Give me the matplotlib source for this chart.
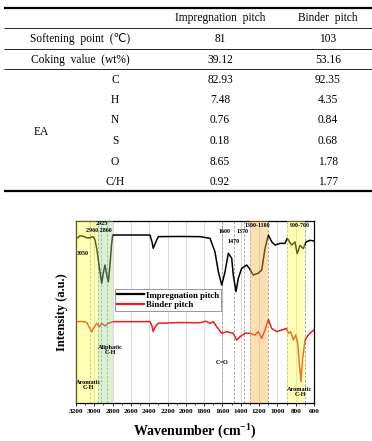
import numpy as np
import matplotlib
matplotlib.use("Agg")
import matplotlib.pyplot as plt
from matplotlib.ticker import MultipleLocator

plt.rcParams['font.family'] = ['Liberation Serif', 'DejaVu Sans']
plt.rcParams['mathtext.fontset'] = 'custom'
plt.rcParams['mathtext.rm'] = 'Liberation Serif'
plt.rcParams['mathtext.bf'] = 'Liberation Serif:bold'

# ---- table data ----
col_headers = ["Impregnation  pitch", "Binder  pitch"]
param_rows = ["Softening  point  (\u2103)", "Coking  value  (wt%)"]
ea_group = "EA"
ea_elements = ["C", "H", "N", "S", "O", "C/H"]
impregnation_vals = ["81", "39.12", "82.93", "7.48", "0.76", "0.18", "8.65", "0.92"]
binder_vals = ["103", "53.16", "92.35", "4.35", "0.84", "0.68", "1.78", "1.77"]

# ---- FT-IR spectra ----
wn_imp = [3192, 3156, 3113, 3080, 3047, 3011, 2992, 2971, 2949, 2919, 2900, 2883,
          2864, 2847, 2829, 2812, 2799, 2755, 2392, 2370, 2356, 2337, 2301, 2064,
          1845, 1736, 1682, 1645, 1608, 1572, 1536, 1499, 1482, 1452, 1427, 1390,
          1361, 1335, 1307, 1263, 1209, 1171, 1135, 1099, 1062, 1026, 971, 917,
          892, 844, 808, 783, 753, 717, 687, 644, 600]
int_imp = [90.5, 91.9, 91.5, 90.7, 90.8, 91.4, 89.6, 84.1, 75.8, 65.8, 72.0, 75.8,
           70.3, 66.6, 75.8, 86.8, 92.3, 92.3, 92.3, 88.5, 85.0, 87.4, 91.4, 91.5,
           91.4, 90.5, 83.1, 72.1, 64.8, 72.1, 82.3, 79.5, 70.3, 61.2, 68.5, 74.0,
           74.9, 75.8, 74.0, 70.3, 71.3, 73.1, 85.0, 92.3, 88.6, 86.8, 87.7, 87.7,
           90.5, 86.8, 88.5, 82.0, 86.6, 84.8, 88.5, 89.4, 89.0]

wn_bin = [3192, 3134, 3083, 3058, 3028, 3011, 2974, 2945, 2919, 2883, 2847, 2793,
          2392, 2370, 2356, 2337, 2301, 2064, 1845, 1780, 1736, 1700, 1663, 1608,
          1554, 1482, 1445, 1408, 1354, 1299, 1245, 1209, 1171, 1135, 1099, 1062,
          1008, 953, 898, 881, 855, 826, 800, 778, 759, 742, 726, 698, 662, 624, 600]
int_bin = [44.7, 44.8, 44.3, 41.8, 39.0, 41.0, 43.8, 41.9, 43.8, 42.3, 43.8, 44.7,
           44.7, 42.3, 39.2, 41.8, 43.8, 44.2, 44.1, 44.9, 43.8, 44.6, 41.9, 38.3,
           39.2, 38.3, 34.6, 36.4, 38.3, 38.3, 37.4, 39.2, 35.5, 40.1, 45.9, 41.0,
           39.2, 40.1, 41.0, 38.3, 39.2, 34.6, 37.4, 32.8, 20.9, 11.7, 23.6, 34.6,
           37.4, 39.2, 40.1]

bands = [(3200, 2960, '#ffff40', 0.38), (2960, 2800, '#a8dc98', 0.42),
         (1300, 1100, '#f8b448', 0.42), (900, 700, '#ffff40', 0.38)]
dashed_wn = [3050, 2960, 2925, 2860, 1600, 1470, 1370]
peak_labels = [("3050", 3124, 82.4), ("2925", 2919, 98.5), ("2960 2860", 2950, 95.0),
               ("1600", 1578, 94.0), ("1470", 1474, 89.0), ("1370", 1379, 94.0),
               ("1300-1100", 1219, 97.6), ("900-700", 753, 97.3)]
group_labels = [("C=O", 1608, 22.1), ("Aliphatic\nC-H", 2829, 29.1),
                ("Aromatic\nC-H", 3066, 9.9), ("Aromatic\nC-H", 753, 6.3)]

W, H = 372, 441
fig = plt.figure(figsize=(W / 100, H / 100), dpi=100)

# ---- table drawn in pixel coordinates ----
tab = fig.add_axes([0, 0, 1, 1])
tab.set_xlim(0, W)
tab.set_ylim(H, 0)
tab.axis('off')
x0, x1 = 4, 372
for y, lw in [(7.5, 1.6), (27.5, 0.6), (48.5, 0.6), (69, 0.6), (191, 1.6)]:
    tab.plot([x0, x1], [y, y], color='black', lw=lw, solid_capstyle='butt')
fs = 8.3
cx_imp, cx_bin = 220, 328
tab.text(cx_imp, 18.3, col_headers[0], ha='center', va='center', fontsize=fs)
tab.text(cx_bin, 18.3, col_headers[1], ha='center', va='center', fontsize=fs)
row_y = [39, 60, 80, 100, 120, 140.7, 161.7, 181.7]
for i, name in enumerate(param_rows):
    tab.text(80, row_y[i], name, ha='center', va='center', fontsize=fs)
for i, el in enumerate(ea_elements):
    tab.text(115, row_y[i + 2], el, ha='center', va='center', fontsize=fs)
tab.text(41.7, 131.7, ea_group, ha='center', va='center', fontsize=fs)
for i in range(len(row_y)):
    tab.text(cx_imp, row_y[i], impregnation_vals[i], ha='center', va='center', fontsize=fs)
    tab.text(cx_bin, row_y[i], binder_vals[i], ha='center', va='center', fontsize=fs)

# ---- FT-IR plot ----
left, right, top, bottom = 76, 314, 221, 403
ax = fig.add_axes([left / W, (H - bottom) / H, (right - left) / W, (bottom - top) / H])
ax.set_xlim(3200, 600)
ax.set_ylim(0, 100)

for xv in range(3000, 600, -200):
    ax.axvline(xv, color='#d4d4d4', lw=0.6, zorder=0)
for xv in dashed_wn + [1300, 1100, 900, 700]:
    ax.axvline(xv, color='#9a9a9a', lw=0.6, ls=(0, (3, 2)), zorder=0.5)

ax.plot(wn_imp, int_imp, color='black', lw=1.1, label='Impregnation pitch', zorder=2)
ax.plot(wn_bin, int_bin, color='#e8201a', lw=1.1, label='Binder pitch', zorder=2)

for a, b, c, al in bands:
    ax.axvspan(b, a, color=c, alpha=al, lw=0, zorder=3)

for txt, x, y in peak_labels:
    ax.text(x, y, txt, ha='center', va='center', fontsize=4.3, fontweight='bold', zorder=4)
for txt, x, y in group_labels:
    ax.text(x, y, txt, ha='center', va='center', fontsize=4.5, fontweight='bold',
            linespacing=1.0, zorder=4)

leg = ax.legend(loc='upper left', bbox_to_anchor=(0.164, 0.626), borderaxespad=0,
                prop={'weight': 'bold', 'size': 6.4}, handlelength=3.0,
                handletextpad=0.2, labelspacing=0.15, borderpad=0.25,
                fancybox=False, edgecolor='#888888', framealpha=1.0)
leg.get_frame().set_linewidth(0.6)
for ln in leg.get_lines():
    ln.set_linewidth(1.6)
leg.set_zorder(5)

ax.xaxis.set_major_locator(MultipleLocator(200))
ax.xaxis.set_minor_locator(MultipleLocator(100))
ax.tick_params(axis='x', which='major', direction='out', length=2.5, width=0.6,
               labelsize=5.2, pad=2)
ax.tick_params(axis='x', which='minor', direction='out', length=1.5, width=0.5)
for lab in ax.get_xticklabels():
    lab.set_fontweight('bold')
ax.set_yticks([])
for sp in ax.spines.values():
    sp.set_linewidth(0.9)

ax.set_xlabel('Wavenumber (cm$^{\\mathbf{-1}}$)', fontsize=10, fontweight='bold', labelpad=5)
ax.set_ylabel('Intensity (a.u.)', fontsize=9, fontweight='bold', labelpad=6)

fig.savefig('out.png', dpi=100)
